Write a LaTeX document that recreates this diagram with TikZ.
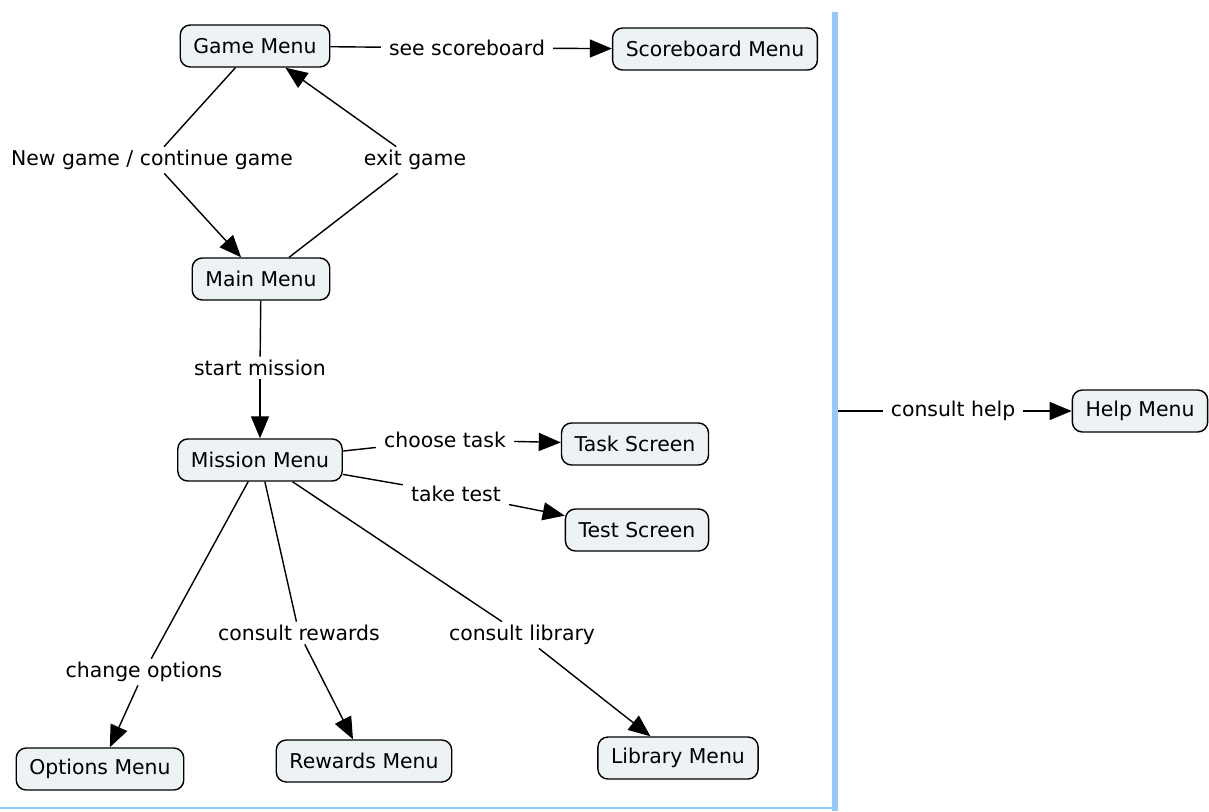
\documentclass[tikz,border=0pt]{standalone}
\usepackage{fontspec}
\setmainfont{DejaVu Sans}
\usetikzlibrary{arrows.meta}
\definecolor{conceptfill}{RGB}{237,242,245}
\definecolor{barblue}{RGB}{150,200,250}
\begin{document}
\begin{tikzpicture}[x=0.025cm, y=-0.025cm,
        concept/.style={draw, line width=1pt, rounded corners=0.25cm, fill=conceptfill, inner xsep=0.33cm, minimum height=1.05cm, font=\fontsize{14.5}{17}\selectfont},
        linklabel/.style={inner xsep=0.2cm, inner ysep=0.08cm, font=\fontsize{14.5}{17}\selectfont},
        link/.style={line width=1pt},
        linkarrow/.style={line width=1pt, -{Triangle[length=0.55cm, width=0.45cm]}}]
        \useasboundingbox (0, 0) rectangle (1209, 811);
        % Frame lines:
        \draw[barblue, line width=3.8pt] (835, 12) -- (835, 811);
        \draw[barblue, line width=2pt] (0, 808) -- (835, 808);
        % Concepts:
        \node[concept](GameMenu) at (255, 46){Game Menu};
        \node[concept](ScoreMenu) at (715, 49){Scoreboard Menu};
        \node[concept](MainMenu) at (261, 279){Main Menu};
        \node[concept](MissionMenu) at (260, 460){Mission Menu};
        \node[concept](TaskScreen) at (635, 444){Task Screen};
        \node[concept](TestScreen) at (637, 530){Test Screen};
        \node[concept](OptionsMenu) at (100, 769){Options Menu};
        \node[concept](RewardsMenu) at (364, 761){Rewards Menu};
        \node[concept](LibraryMenu) at (678, 758){Library Menu};
        \node[concept](HelpMenu) at (1140, 411){Help Menu};
        % Link labels:
        \node[linklabel](SeeScore) at (467, 48){see scoreboard};
        \node[linklabel](NewGame) at (152, 160){New game / continue game};
        \node[linklabel](ExitGame) at (415, 160){exit game};
        \node[linklabel](StartMission) at (260, 368){start mission};
        \node[linklabel](ChooseTask) at (445, 440){choose task};
        \node[linklabel](TakeTest) at (456, 494){take test};
        \node[linklabel](ChangeOpt) at (144, 672){change options};
        \node[linklabel](ConsRewards) at (299, 633){consult rewards};
        \node[linklabel](ConsLibrary) at (522, 635){consult library};
        \node[linklabel](ConsHelp) at (953, 411){consult help};
        \coordinate (HelpStart) at (838, 411);
        % Links:
        \draw[link] (GameMenu) -- (SeeScore);
        \draw[linkarrow] (SeeScore) -- (ScoreMenu);
        \draw[link] (GameMenu) -- (NewGame);
        \draw[linkarrow] (NewGame) -- (MainMenu);
        \draw[link] (MainMenu) -- (ExitGame);
        \draw[linkarrow] (ExitGame) -- (GameMenu);
        \draw[link] (MainMenu) -- (StartMission);
        \draw[linkarrow] (StartMission) -- (MissionMenu);
        \draw[link] (MissionMenu) -- (ChooseTask);
        \draw[linkarrow] (ChooseTask) -- (TaskScreen);
        \draw[link] (MissionMenu) -- (TakeTest);
        \draw[linkarrow] (TakeTest) -- (TestScreen);
        \draw[link] (MissionMenu) -- (ChangeOpt);
        \draw[linkarrow] (ChangeOpt) -- (OptionsMenu);
        \draw[link] (MissionMenu) -- (ConsRewards);
        \draw[linkarrow] (ConsRewards) -- (RewardsMenu);
        \draw[link] (MissionMenu) -- (ConsLibrary);
        \draw[linkarrow] (ConsLibrary) -- (LibraryMenu);
        \draw[link] (HelpStart) -- (ConsHelp);
        \draw[linkarrow] (ConsHelp) -- (HelpMenu);
    \end{tikzpicture}
\end{document}
